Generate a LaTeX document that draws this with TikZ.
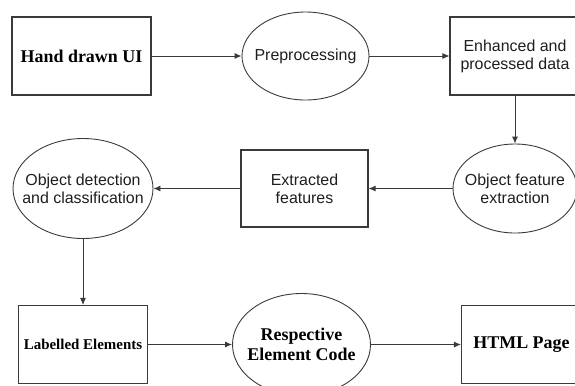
\documentclass[tikz,border=0pt]{standalone}
\usepackage{fontspec}
\setmainfont{Liberation Serif}
\newfontfamily\arialfont{Liberation Sans}
\usepackage{xcolor}
\usepackage{tikz}
\usetikzlibrary{arrows.meta, positioning, shapes.geometric}

\definecolor{edgegray}{HTML}{3A3A3A}
\definecolor{textgray}{HTML}{1E1E1E}

\begin{document}
\begin{tikzpicture}[
  x=1bp, y=-1bp,
  box/.style={draw=edgegray, line width=1.1bp, align=center, inner sep=0pt},
  oval/.style={ellipse, draw=edgegray, line width=0.9bp, align=center, inner ysep=0pt, inner xsep=-20bp},
  sanslabel/.style={font=\arialfont\fontsize{16}{18}\selectfont, text=textgray},
  seriflabel/.style={font=\bfseries\fontsize{18}{20.5}\selectfont, text=black},
  arrow/.style={-{Latex[length=7bp,width=6bp]}, draw=edgegray, line width=0.9bp}
]

\useasboundingbox (0,0) rectangle (575,385);

% Nodes
\node[box, seriflabel, minimum width=139bp, minimum height=78bp] (n1) at (81.5,56) {Hand drawn UI};
\node[oval, sanslabel, minimum width=127bp, minimum height=88bp, right=90bp of n1] (n2) {Preprocessing};
\node[box, sanslabel, minimum width=130bp, minimum height=78bp, right=80bp of n2] (n3) {Enhanced and\\processed data};
\node[oval, sanslabel, minimum width=124bp, minimum height=89bp, below=48bp of n3] (n4) {Object feature\\extraction};
\node[box, sanslabel, minimum width=127bp, minimum height=77bp, left=84bp of n4] (n5) {Extracted\\features};
\node[oval, sanslabel, minimum width=140bp, minimum height=100bp, left=87bp of n5] (n6) {Object detection\\and classification};
\node[box, seriflabel, font=\bfseries\fontsize{15}{17}\selectfont, minimum width=129bp, minimum height=78bp, below=66bp of n6] (n7) {Labelled Elements};
\node[oval, seriflabel, minimum width=138bp, minimum height=102bp, right=84bp of n7] (n8) {Respective\\Element Code};
\node[box, seriflabel, minimum width=120bp, minimum height=78bp, right=90bp of n8] (n9) {HTML Page};

% Pointers
\draw[arrow] (n1) -- (n2);
\draw[arrow] (n2) -- (n3);
\draw[arrow] (n3) -- (n4);
\draw[arrow] (n4) -- (n5);
\draw[arrow] (n5) -- (n6);
\draw[arrow] (n6) -- (n7);
\draw[arrow] (n7) -- (n8);
\draw[arrow] (n8) -- (n9);

\end{tikzpicture}
\end{document}
